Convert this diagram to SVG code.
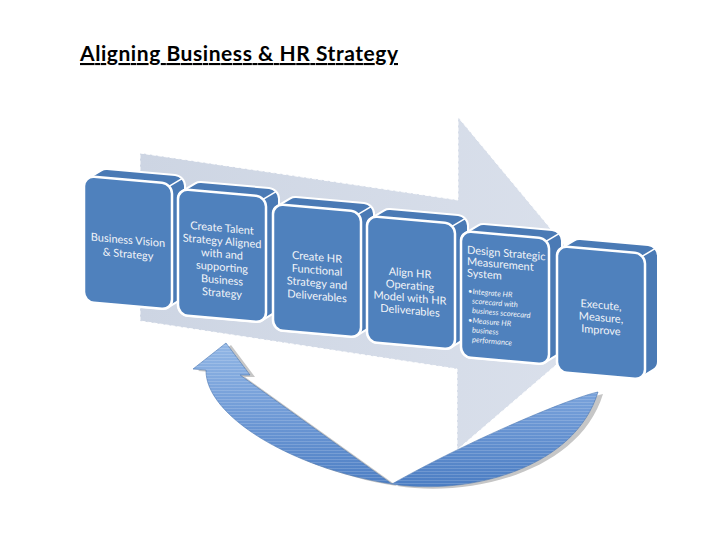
<svg xmlns="http://www.w3.org/2000/svg" xmlns:xlink="http://www.w3.org/1999/xlink" width="728" height="546" viewBox="0 0 728 546">
<defs>
<style>
.title{font-family:Lato,"Liberation Sans",sans-serif;font-weight:bold;font-size:21px;fill:#000;text-decoration:underline}
.lbl{font-family:Lato,"Liberation Sans",sans-serif;font-size:11px;fill:#f2f4f8;text-anchor:middle}
.lbl-l{font-family:Lato,"Liberation Sans",sans-serif;font-size:11px;fill:#f2f4f8}
.bul{font-family:Lato,"Liberation Sans",sans-serif;font-style:italic;font-size:7.6px;fill:#f2f4f8}
.hull{fill:#4a7ab5;stroke:#fff;stroke-width:2;stroke-linejoin:round}
.front{fill:#4f81bd;stroke:#fff;stroke-width:2.5}
.edge{stroke:#fff;stroke-width:1.5;fill:none}
</style>
<linearGradient id="bgArrow" x1="0" y1="0" x2="1" y2="0">
<stop offset="0" stop-color="#cdd5e3"/>
<stop offset="1" stop-color="#dbe1ec"/>
</linearGradient>
<linearGradient id="curveGrad" gradientUnits="userSpaceOnUse" x1="0" y1="340" x2="0" y2="490">
<stop offset="0" stop-color="#94b8e6"/>
<stop offset="0.5" stop-color="#6f9ad6"/>
<stop offset="1" stop-color="#4a7cc2"/>
</linearGradient>
<pattern id="stripes" patternUnits="userSpaceOnUse" width="6" height="3">
<rect x="0" y="0" width="6" height="1" fill="#ffffff" fill-opacity="0.16"/>
</pattern>
<g id="box">
<path class="hull" d="M0,116 L0,10 A10,10 0 0 1 4.3,1.8 L17.3,-7.2 A10,10 0 0 1 23,-9 L91,-9 A10,10 0 0 1 101,1 L101,107 A10,10 0 0 1 96.7,115.2 L83.7,124.2 A10,10 0 0 1 78,126 L10,126 A10,10 0 0 1 0,116 Z"/>
<line class="edge" x1="85" y1="3" x2="98" y2="-6"/>
<rect class="front" x="0" y="0" width="88" height="126" rx="10" ry="10"/>
</g>
</defs>

<rect x="0" y="0" width="728" height="546" fill="#ffffff"/>

<g id="title">
<text class="title" x="80" y="61" textLength="318">Aligning Business &amp; HR Strategy</text>
</g>

<g id="background-arrow">
<polygon points="140,153 458,200 458,117 619,311 457,450 457,369 140,321" fill="url(#bgArrow)" stroke="#ffffff" stroke-width="1" stroke-dasharray="4,2"/>
</g>

<g id="connectors">
<path d="M392,484 C470,496 575,468 598,392 C570,398 470,440 392,484 L240,375 L250,375 L226,343 L193,369 L206,370 C205,415 290,468 392,484 Z" fill="#c6c6c6" transform="translate(5,2)"/>
<path d="M392,484 C470,496 575,468 598,392 C570,398 470,440 392,484 L240,375 L250,375 L226,343 L193,369 L206,370 C205,415 290,468 392,484 Z" fill="url(#curveGrad)" stroke="#4a76b0" stroke-width="0.6"/>
<path d="M392,484 C470,496 575,468 598,392 C570,398 470,440 392,484 L240,375 L250,375 L226,343 L193,369 L206,370 C205,415 290,468 392,484 Z" fill="url(#stripes)"/>
</g>

<g id="node-1" transform="translate(84,176) skewY(5)">
<use xlink:href="#box"/>
<text class="lbl" x="44" y="64">Business Vision</text>
<text class="lbl" x="44" y="78">&amp; Strategy</text>
</g>

<g id="node-2" transform="translate(178,189) skewY(5)">
<use xlink:href="#box"/>
<text class="lbl" x="44" y="39">Create Talent</text>
<text class="lbl" x="44" y="52">Strategy Aligned</text>
<text class="lbl" x="44" y="65">with and</text>
<text class="lbl" x="44" y="78">supporting</text>
<text class="lbl" x="44" y="91">Business</text>
<text class="lbl" x="44" y="104">Strategy</text>
</g>

<g id="node-3" transform="translate(273,204) skewY(5)">
<use xlink:href="#box"/>
<text class="lbl" x="44" y="53">Create HR</text>
<text class="lbl" x="44" y="66">Functional</text>
<text class="lbl" x="44" y="79">Strategy and</text>
<text class="lbl" x="44" y="92">Deliverables</text>
</g>

<g id="node-4" transform="translate(367,216) skewY(5)">
<use xlink:href="#box"/>
<text class="lbl" x="43" y="57">Align HR</text>
<text class="lbl" x="43" y="69.5">Operating</text>
<text class="lbl" x="43" y="82">Model with HR</text>
<text class="lbl" x="43" y="94.5">Deliverables</text>
</g>

<g id="node-5" transform="translate(461,231) skewY(5)">
<use xlink:href="#box"/>
<text class="lbl-l" x="6" y="22">Design Strategic</text>
<text class="lbl-l" x="6" y="33.5">Measurement</text>
<text class="lbl-l" x="6" y="45">System</text>
<text class="bul" x="7" y="62">•Integrate HR</text>
<text class="bul" x="11" y="71.5">scorecard with</text>
<text class="bul" x="11" y="81">business scorecard</text>
<text class="bul" x="7" y="91">•Measure HR</text>
<text class="bul" x="11" y="100.5">business</text>
<text class="bul" x="11" y="110">performance</text>
</g>

<g id="node-6" transform="translate(557,246) skewY(5)">
<use xlink:href="#box"/>
<text class="lbl" x="44" y="59">Execute,</text>
<text class="lbl" x="44" y="71.5">Measure,</text>
<text class="lbl" x="44" y="84">Improve</text>
</g>
</svg>
